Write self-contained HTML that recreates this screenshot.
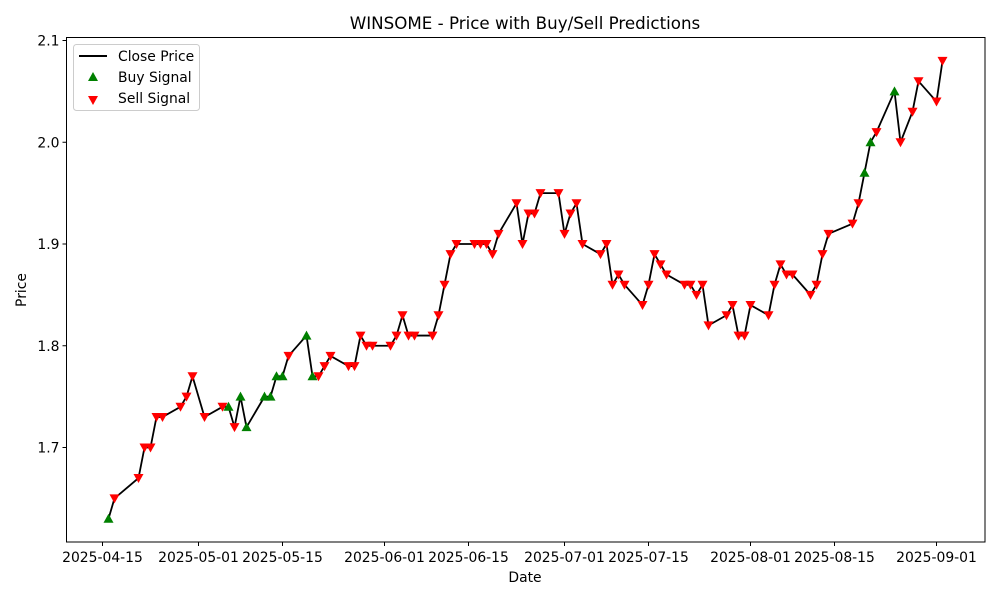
<!DOCTYPE html>
<html><head><meta charset="utf-8"><style>
body{margin:0;background:#fff}
svg{display:block;font-family:"DejaVu Sans","Liberation Sans",sans-serif}
</style></head><body>
<svg id="chart" width="1000" height="600" viewBox="0 0 1000 600" xmlns="http://www.w3.org/2000/svg">
<rect width="1000" height="600" fill="#fff"/>
<text x="525" y="29" text-anchor="middle" font-size="16.7">WINSOME - Price with Buy/Sell Predictions</text>
<text x="525" y="582" text-anchor="middle" font-size="13.9">Date</text>
<text transform="translate(26,290) rotate(-90)" text-anchor="middle" font-size="13.9">Price</text>
<g id="plot"></g>
<g>
<rect x="73.5" y="44.5" width="126" height="66" rx="3" fill="#fff" stroke="#ccc"/>
<line x1="79" y1="56" x2="107" y2="56" stroke="#000" stroke-width="2"/>
<text x="118" y="61" font-size="13.9">Close Price</text>
<polygon points="93,72 88,81 98,81" fill="green"/>
<text x="118" y="82" font-size="13.9">Buy Signal</text>
<polygon points="88,96 98,96 93,105" fill="red"/>
<text x="118" y="103" font-size="13.9">Sell Signal</text>
</g>
</svg>
<script>
const dates = ["2025-04-16","2025-04-17","2025-04-21","2025-04-22","2025-04-23","2025-04-24","2025-04-25","2025-04-28","2025-04-29","2025-04-30","2025-05-02","2025-05-05","2025-05-06","2025-05-07","2025-05-08","2025-05-09","2025-05-12","2025-05-13","2025-05-14","2025-05-15","2025-05-16","2025-05-19","2025-05-20","2025-05-21","2025-05-22","2025-05-23","2025-05-26","2025-05-27","2025-05-28","2025-05-29","2025-05-30","2025-06-02","2025-06-03","2025-06-04","2025-06-05","2025-06-06","2025-06-09","2025-06-10","2025-06-11","2025-06-12","2025-06-13","2025-06-16","2025-06-17","2025-06-18","2025-06-19","2025-06-20","2025-06-23","2025-06-24","2025-06-25","2025-06-26","2025-06-27","2025-06-30","2025-07-01","2025-07-02","2025-07-03","2025-07-04","2025-07-07","2025-07-08","2025-07-09","2025-07-10","2025-07-11","2025-07-14","2025-07-15","2025-07-16","2025-07-17","2025-07-18","2025-07-21","2025-07-22","2025-07-23","2025-07-24","2025-07-25","2025-07-28","2025-07-29","2025-07-30","2025-07-31","2025-08-01","2025-08-04","2025-08-05","2025-08-06","2025-08-07","2025-08-08","2025-08-11","2025-08-12","2025-08-13","2025-08-14","2025-08-18","2025-08-19","2025-08-20","2025-08-21","2025-08-22","2025-08-25","2025-08-26","2025-08-28","2025-08-29","2025-09-01","2025-09-02"];
const prices = [1.63,1.65,1.67,1.70,1.70,1.73,1.73,1.74,1.75,1.77,1.73,1.74,1.74,1.72,1.75,1.72,1.75,1.75,1.77,1.77,1.79,1.81,1.77,1.77,1.78,1.79,1.78,1.78,1.81,1.80,1.80,1.80,1.81,1.83,1.81,1.81,1.81,1.83,1.86,1.89,1.90,1.90,1.90,1.90,1.89,1.91,1.94,1.90,1.93,1.93,1.95,1.95,1.91,1.93,1.94,1.90,1.89,1.90,1.86,1.87,1.86,1.84,1.86,1.89,1.88,1.87,1.86,1.86,1.85,1.86,1.82,1.83,1.84,1.81,1.81,1.84,1.83,1.86,1.88,1.87,1.87,1.85,1.86,1.89,1.91,1.92,1.94,1.97,2.00,2.01,2.05,2.00,2.03,2.06,2.04,2.08];
const signals = ("B"+"S".repeat(11)+"BS"+"BBBBBB"+"S"+"BB"+"S".repeat(64)+"BBSB"+"SSSSS").split("");
const yTicks = [1.7,1.8,1.9,2.0,2.1];
const xTicks = ["2025-04-15","2025-05-01","2025-05-15","2025-06-01","2025-06-15","2025-07-01","2025-07-15","2025-08-01","2025-08-15","2025-09-01"];

const L=66.5,R=985,T=37.5,B=542;
const day0=Date.UTC(2025,3,15);
function dnum(s){const p=s.split("-");return (Date.UTC(+p[0],+p[1]-1,+p[2])-day0)/86400000;}
const xs=d=>102.5+dnum(d)*6.0;
const ys=v=>447.5-(v-1.7)*1017.5;
const NS="http://www.w3.org/2000/svg";
const g=document.getElementById("plot");
function mk(t,a,p){const e=document.createElementNS(NS,t);for(const k in a)e.setAttribute(k,a[k]);(p||g).appendChild(e);return e;}
const frame=mk("rect",{x:L,y:T,width:R-L,height:B-T,fill:"none",stroke:"#000","stroke-width":1});


yTicks.forEach(v=>{const y=ys(v);
 const t=mk("line",{x1:L-4,x2:L,y1:y,y2:y,stroke:"#000"});
 
 
 const tx=mk("text",{x:L-7,y:y+5,"text-anchor":"end","font-size":"13.9"});tx.textContent=v.toFixed(1);
 
 
});
xTicks.forEach(d=>{const x=xs(d);
 const t=mk("line",{x1:x,x2:x,y1:B,y2:B+4,stroke:"#000"});
 
 
 const tx=mk("text",{x:x,y:B+20,"text-anchor":"middle","font-size":"13.9"});tx.textContent=d;
 
 
});
const line=mk("polyline",{points:dates.map((d,i)=>xs(d)+","+ys(prices[i])).join(" "),fill:"none",stroke:"#000","stroke-width":1.8,"stroke-linejoin":"round"});


dates.forEach((d,i)=>{const x=xs(d),y=ys(prices[i]);let p;
 if(signals[i]==="B"){p=mk("polygon",{points:`${x},${y-5} ${x-5},${y+4} ${x+5},${y+4}`,fill:"green"});
  }
 else{p=mk("polygon",{points:`${x-5},${y-4} ${x+5},${y-4} ${x},${y+5}`,fill:"red"});
  }
 
});
</script>
</body></html>
